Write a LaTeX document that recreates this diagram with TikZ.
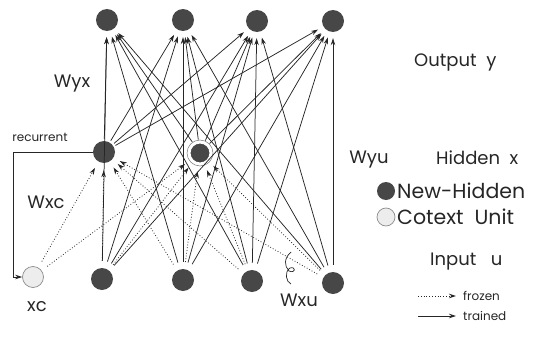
\documentclass[tikz,border=0pt]{standalone}
\usepackage{fontspec}
\setmainfont{Poppins}
\usetikzlibrary{arrows.meta}
\begin{document}
\begin{tikzpicture}[x=1pt,y=-1pt,
  unit/.style={circle,fill=black!72,minimum size=22pt,inner sep=0pt},
  newunit/.style={circle,fill=black!72,minimum size=21pt,inner sep=0pt,draw=white,line width=2pt},
  ctxunit/.style={circle,fill=black!7,draw=black!45,line width=0.7pt,minimum size=21pt,inner sep=0pt},
  trained/.style={draw=black!85,line width=0.75pt,-{Stealth[length=7pt,width=4.5pt]}},
  frozen/.style={draw=black!85,line width=0.8pt,dotted,-{Stealth[length=7pt,width=4.5pt]}},
  lbl/.style={font=\fontsize{18}{18}\selectfont,inner sep=0pt,text=black!85},
  widelbl/.style={font=\fontsize{20.5}{20.5}\selectfont,inner sep=0pt,text=black!85},
  small/.style={font=\fontsize{12}{12}\selectfont,inner sep=0pt,text=black!85}]
\useasboundingbox (0,0) rectangle (549,348);
% outputs
\node[unit] (y1) at (107,20) {};
\node[unit] (y2) at (183,20) {};
\node[unit] (y3) at (257,21) {};
\node[unit] (y4) at (333,21) {};
% hidden
\node[unit] (h1) at (104,152) {};
\node[newunit] (h2) at (200,153) {};
\draw[black!55,line width=0.5pt] (h2) circle (13pt);
% context
\node[ctxunit] (xc) at (33,277) {};
% inputs
\node[unit] (u1) at (102,279) {};
\node[unit] (u2) at (183,280) {};
\node[unit] (u3) at (252,281) {};
\node[unit] (u4) at (333,283) {};
% input -> output (trained)
\foreach \i in {u1,u2,u3,u4}{
  \foreach \o in {y1,y2,y3,y4}{
    \draw[trained,shorten <=7pt,shorten >=6pt] (\i) -- (\o);
  }
}
% hidden -> output (trained)
\foreach \h in {h1,h2}{
  \foreach \o in {y1,y2,y3,y4}{
    \draw[trained,shorten <=2pt,shorten >=6pt] (\h) -- (\o);
  }
}
% inputs & context -> hidden (frozen)
\foreach \i in {xc,u1,u2,u3,u4}{
  \foreach \h in {h1,h2}{
    \draw[frozen,shorten <=7pt,shorten >=7pt] (\i) -- (\h);
  }
}
% recurrent link
\coordinate (rc) at (13,152);
\draw[trained] (h1.west) -- (rc) |- (xc.west);
% labels
\node[lbl] (lwyx) at (72,84) {Wyx};
\node[small] (lrec) at (40,137) {recurrent};
\node[lbl] (lwxc) at (46,202) {Wxc};
\node[lbl] (lxc) at (37,307) {xc};
\node[lbl] (lwyu) at (369,160) {Wyu};
\node[lbl] (lwxu) at (299,300) {Wxu};
\coordinate (sq1) at (291,252);
\coordinate (sq2) at (291,284);
\draw[black!85,line width=0.7pt] (sq1) .. controls (284,258) and (284,266) .. (289,271)
  .. controls (296,274) and (296,266) .. (290,268) .. controls (284,272) and (286,282) .. (sq2);
% legend
\node[lbl,anchor=west] (lout) at (414,62) {Output\ \ y};
\node[lbl,anchor=west] (lhid) at (436,158) {Hidden\ \ x};
\node[unit,minimum size=18pt] (lnewc) at (386,191) {};
\node[widelbl,anchor=west] (lnew) at (397,191) {New-Hidden};
\node[ctxunit,minimum size=18pt] (lctxc) at (386,217) {};
\node[widelbl,anchor=west] (lctx) at (397,217) {Cotext\ \ Unit};
\node[lbl,anchor=west] (linp) at (430,262) {Input\ \ \ u};
\coordinate (fa) at (418,296);
\coordinate (fb) at (456,296);
\draw[frozen] (fa) -- (fb);
\node[small,anchor=west] (lfro) at (463,296) {frozen};
\coordinate (ta) at (418,316);
\coordinate (tb) at (456,316);
\draw[trained] (ta) -- (tb);
\node[small,anchor=west] (ltra) at (463,316) {trained};
\end{tikzpicture}
\end{document}
